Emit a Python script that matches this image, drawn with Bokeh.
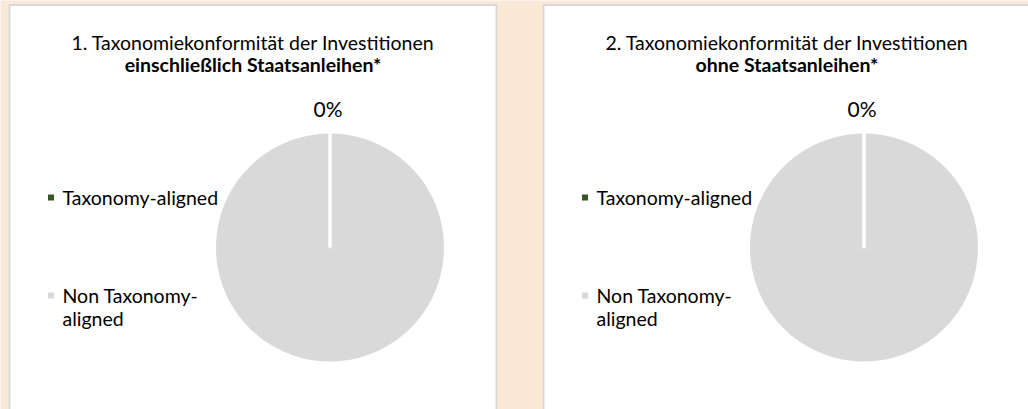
import math
from bokeh.plotting import figure
from bokeh.models import Range1d
from bokeh.core.properties import value
from bokeh.embed import file_html
from bokeh.resources import INLINE

# ---- data ----
categories = ["Taxonomy-aligned", "Non Taxonomy-aligned"]
legend_labels = [["Taxonomy-aligned"], ["Non Taxonomy-", "aligned"]]
chart1_values = [0.0, 100.0]   # incl. sovereign bonds
chart2_values = [0.0, 100.0]   # excl. sovereign bonds
colors = ["#375623", "#D9D9D9"]
titles_line1 = ["1. Taxonomiekonformität der Investitionen",
                "2. Taxonomiekonformität der Investitionen"]
titles_line2 = ["einschließlich Staatsanleihen*", "ohne Staatsanleihen*"]

W, H = 1028, 409
FONT = "Lato"
FS = "19.5px"

p = figure(width=W, height=H, output_backend="svg", toolbar_location=None,
           x_range=Range1d(0, W), y_range=Range1d(0, H), min_border=0)
p.axis.visible = False
p.grid.visible = False
p.outline_line_color = None
p.background_fill_color = "#FBE9D8"
p.border_fill_color = "#FBE9D8"

def Y(y):  # pixel-from-top -> data
    return H - y

panel_left = [9, 543]
panel_w = 487
radius = 114

for i, vals in enumerate([chart1_values, chart2_values]):
    L = panel_left[i]
    p.quad(left=L, right=L + panel_w if i == 0 else W + 20, top=Y(4.5), bottom=-20,
           fill_color="white", line_color="#D9D9D9", line_width=2)
    cx = L + 320.5
    cy = Y(247)
    total = sum(vals)
    start = math.pi / 2
    angles = []
    for v, c in zip(vals, colors):
        frac = v / total
        end = start - 2 * math.pi * frac
        if frac > 0:
            # split into chunks of at most ~pi so SVG arcs render
            n = max(1, math.ceil((start - end) / (math.pi * 0.9)))
            step = (start - end) / n
            for k in range(n):
                a1 = start - k * step
                a0 = a1 - step
                p.wedge(x=[cx], y=[cy], radius=radius,
                        start_angle=a0 - (0.01 if k < n - 1 else 0),
                        end_angle=a1, fill_color=c, line_color=None)
        angles.append((start, end))
        start = end
    # slice boundaries (white separators)
    for (s, e) in angles:
        p.segment(x0=[cx], y0=[cy], x1=[cx + (radius + 1) * math.cos(s)],
                  y1=[cy + (radius + 1) * math.sin(s)], line_color="white", line_width=3)
    # data label of first slice (outside end)
    s, e = angles[0]
    mid = (s + e) / 2
    pct = round(vals[0] / total * 100)
    p.text(x=[cx + (radius + 25) * math.cos(mid) - 2], y=[cy + (radius + 25) * math.sin(mid)],
           text=[f"{pct}%"], text_font=value(FONT), text_font_size="21px",
           text_align="center", text_baseline="middle", text_color="#000000")
    # title
    tcx = L + panel_w / 2
    p.text(x=[tcx], y=[Y(42)], text=[titles_line1[i]], text_font=value(FONT),
           text_font_size=FS, text_align="center", text_baseline="middle",
           text_color="#000000")
    p.text(x=[tcx], y=[Y(64)], text=[titles_line2[i]], text_font=value(FONT),
           text_font_size=FS, text_font_style="bold", text_align="center",
           text_baseline="middle", text_color="#000000")
    # legend
    ly = [197, 295]
    for k, c in enumerate(colors):
        p.rect(x=[L + 41.5], y=[Y(ly[k])], width=6, height=6, fill_color=c, line_color=None)
        for j, line in enumerate(legend_labels[k]):
            p.text(x=[L + 53], y=[Y(ly[k] + 23 * j)], text=[line], text_font=value(FONT),
                   text_font_size=FS, text_align="left", text_baseline="middle",
                   text_color="#000000")

open("out.html", "w").write(file_html(p, INLINE))
